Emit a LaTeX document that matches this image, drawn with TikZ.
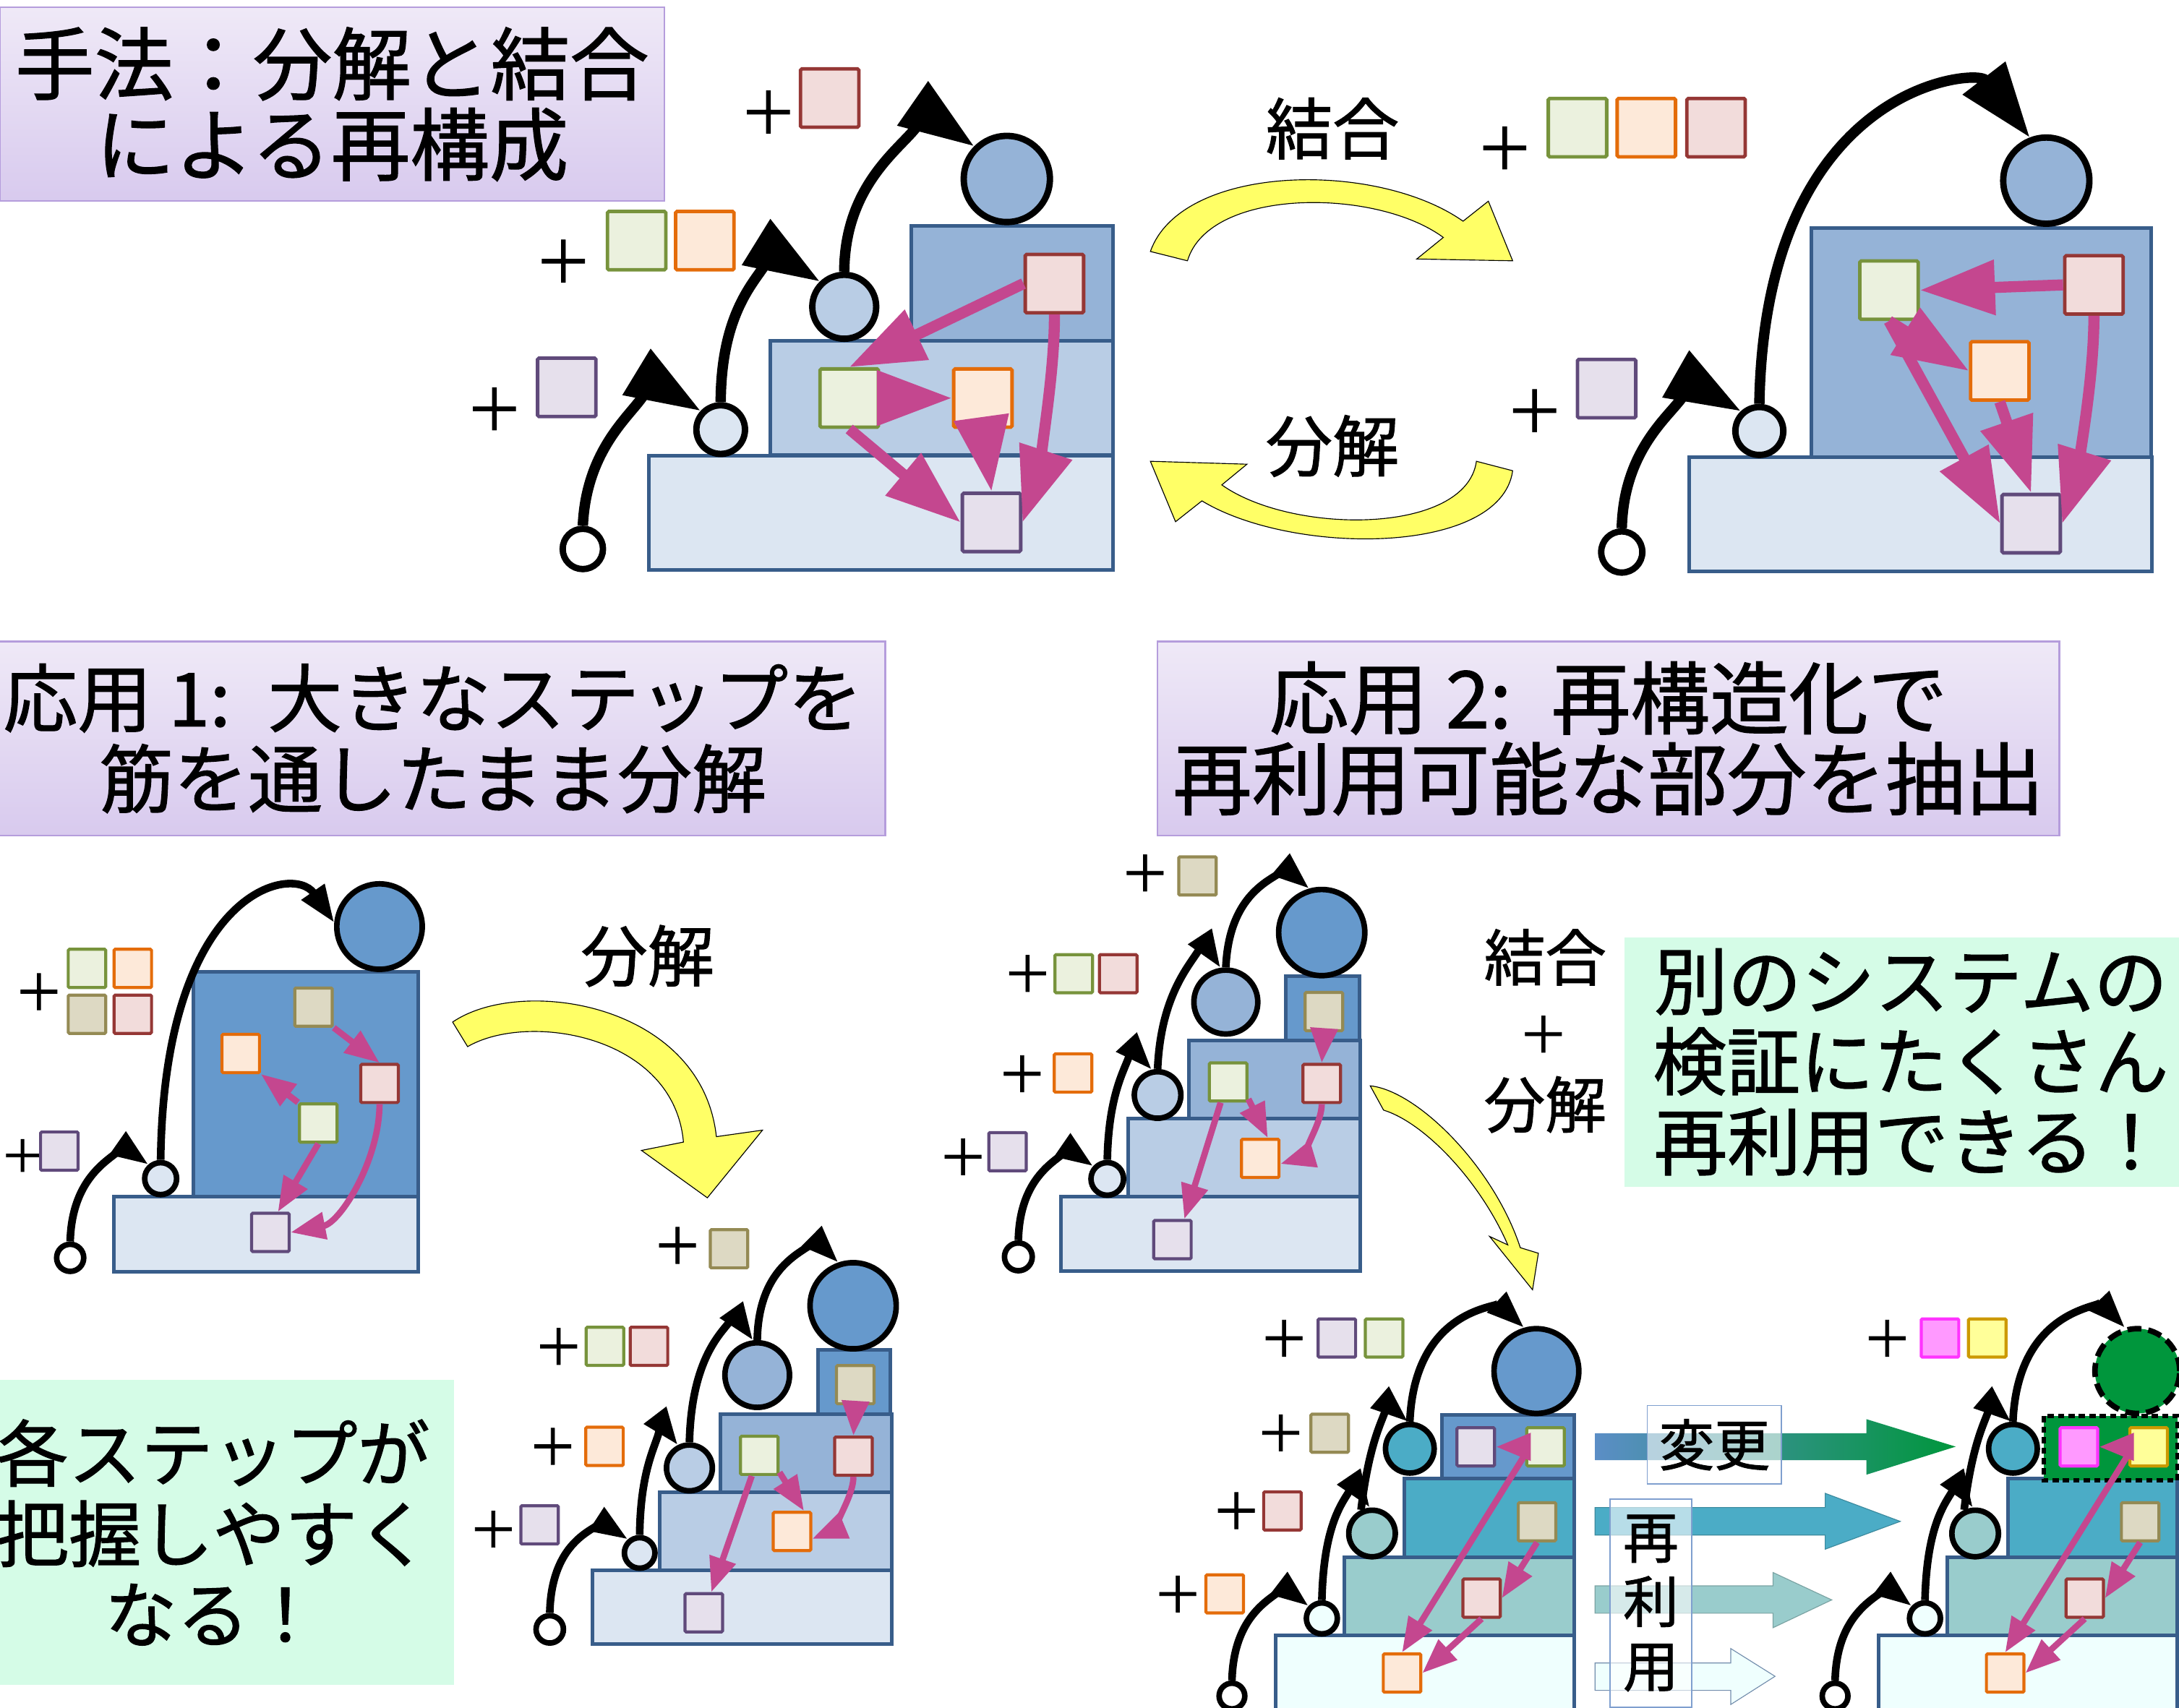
\documentclass[tikz,border=0pt]{standalone}
\usepackage{fontspec}
\setmainfont{Noto Sans CJK JP}[FakeBold=1.2]
\usetikzlibrary{arrows.meta}
\definecolor{cA}{HTML}{DCE6F2}
\definecolor{cB}{HTML}{B9CDE5}
\definecolor{cC}{HTML}{95B3D7}
\definecolor{cD}{HTML}{6699CC}
\definecolor{bd}{HTML}{385D8A}
\definecolor{tqa}{HTML}{4BACC6}
\definecolor{tqb}{HTML}{99CCCC}
\definecolor{tqc}{HTML}{EFFFFE}
\definecolor{gF}{HTML}{EBF1DE}\definecolor{gD}{HTML}{77933C}
\definecolor{oF}{HTML}{FDE9D9}\definecolor{oD}{HTML}{E46C0A}
\definecolor{rF}{HTML}{F2DCDB}\definecolor{rD}{HTML}{953735}
\definecolor{pF}{HTML}{E6E0EC}\definecolor{pD}{HTML}{604A7B}
\definecolor{tF}{HTML}{DDD9C3}\definecolor{tD}{HTML}{948A54}
\definecolor{kF}{HTML}{FF99FF}\definecolor{kD}{HTML}{FF33FF}
\definecolor{yF}{HTML}{FFFF99}\definecolor{yD}{HTML}{CC9900}
\definecolor{mg}{HTML}{C4478F}
\definecolor{yel}{HTML}{FFFF66}
\definecolor{ttop}{HTML}{EFE9F7}\definecolor{tbot}{HTML}{D8CAEE}\definecolor{tbd}{HTML}{B59DDC}
\definecolor{mint}{HTML}{D5FCE7}
\definecolor{grn}{HTML}{00963C}
\definecolor{arL}{HTML}{5B8EC6}
\definecolor{lbd}{HTML}{7F9FCF}
\tikzset{
 stepbox/.style={draw=bd, line width=2.6pt},
 sqb/.style={rectangle, inner sep=0pt, line width=2.5pt, minimum width=42pt, minimum height=42pt, rounded corners=1pt},
 sqs/.style={rectangle, inner sep=0pt, line width=2.2pt, minimum width=27pt, minimum height=27.5pt, rounded corners=0.8pt},
 gsq/.style={fill=gF, draw=gD},
 osq/.style={fill=oF, draw=oD},
 rsq/.style={fill=rF, draw=rD},
 psq/.style={fill=pF, draw=pD},
 tsq/.style={fill=tF, draw=tD},
 ksq/.style={fill=kF, draw=kD},
 ysq/.style={fill=yF, draw=yD},
 hdb/.style={circle, draw=black, line width=4.6pt, inner sep=0pt},
 hds/.style={circle, draw=black, line width=4pt, inner sep=0pt},
 blkA/.style={draw=black, line width=7.5pt, -{Triangle[length=54pt,width=37pt]}},
 blkS/.style={draw=black, line width=5.5pt, -{Triangle[length=27pt,width=19pt]}},
 mgA/.style={draw=mg, line width=8pt, -{Triangle[length=54pt,width=38pt]}},
 mgS/.style={draw=mg, line width=4.5pt, -{Triangle[length=25pt,width=19pt]}},
 plusb/.style={inner sep=0pt, font=\fontsize{42}{42}\selectfont},
 pluss/.style={inner sep=0pt, font=\fontsize{36}{36}\selectfont},
 yarrow/.style={fill=yel, draw=black, line width=0.6pt},
 titlebox/.style={rectangle, top color=ttop, bottom color=tbot, draw=tbd, line width=1.2pt, align=center, inner sep=0pt},
 notebox/.style={rectangle, fill=mint, align=center, inner sep=0pt},
 lblbox/.style={rectangle, fill=white, fill opacity=0.6, text opacity=1, draw=lbd, line width=0.9pt, align=center, inner sep=0pt, font=\fontsize{40}{46.3}\selectfont},
 lbl/.style={inner sep=0pt, font=\fontsize{48}{48}\selectfont},
 lbls/.style={inner sep=0pt, font=\fontsize{44}{44}\selectfont},
}
\begin{document}
\begin{tikzpicture}[x=1pt,y=-1pt]
\useasboundingbox (0,0) rectangle (1568,1229);
\clip (0,0) rectangle (1568,1229);
\fill[white] (0,0) rectangle (1568,1229);

% ---------- titles and notes ----------
\node[titlebox, minimum width=478pt, minimum height=139.6pt, font=\fontsize{57}{58}\selectfont] (t1) at (239,75) {手法：分解と結合\\による再構成};
\node[titlebox, minimum width=651pt, minimum height=139.7pt, font=\fontsize{53.5}{58}\selectfont] (t2) at (311.5,531.5) {応用 1:\hspace{0.5em}大きなステップを\\筋を通したまま分解};
\node[titlebox, minimum width=648.8pt, minimum height=139.7pt, font=\fontsize{57}{58}\selectfont] (t3) at (1157.4,531.5) {応用 2:\hspace{0.5em}再構造化で\\再利用可能な部分を抽出};
\node[notebox, minimum width=346.6pt, minimum height=220pt, font=\fontsize{52}{58}\selectfont] (n1) at (153.3,1102.9) {各ステップが\\把握しやすく\\なる！};
\node[notebox, minimum width=412pt, minimum height=179.4pt, font=\fontsize{53}{57.7}\selectfont] (n2) at (1375,764.4) {別のシステムの\\検証にたくさん\\再利用できる！};

% ---------- yellow arrows ----------
\filldraw[yarrow] (827.8,181) .. controls (850,118) and (990,115) .. (1052.8,159.2) -- (1071,144.8) -- (1088.5,187.7) -- (1019.5,186.4) -- (1038.6,170.9) .. controls (990,135) and (870,135) .. (854.5,187.7) -- cycle;
\filldraw[yarrow] (1088.5,338.8) .. controls (1080,400) and (930,400) .. (864.9,360.5) -- (845.9,375.5) -- (827.8,332) -- (897.3,334.1) -- (879.2,349) .. controls (930,385) and (1055,385) .. (1062.4,332) -- cycle;
\filldraw[yarrow] (325.7,735.6) .. controls (375,702) and (505,722) .. (515.5,818.1) -- (548.7,813.4) -- (509,862.1) -- (461.6,828) -- (491.8,822) .. controls (485,745) and (380,728) .. (336.5,753.3) -- cycle;
\filldraw[yarrow] (986,781.5) .. controls (1020,785) and (1075,840) .. (1094,898) -- (1107,902) -- (1102.8,928.3) -- (1071.9,889.9) -- (1085,896) .. controls (1065,850) and (1025,808) .. (995.6,799) -- cycle;
\node[lbl] (kA) at (958.8,92.5) {結合};
\node[lbl] (bA) at (958.8,321) {分解};
\node[lbl] (bC) at (466,688) {分解};
\node[lbls] (kE) at (1111.9,689) {結合};
\node[pluss] (pE) at (1110.6,744.5) {＋};
\node[lbls] (bE) at (1111.9,795) {分解};

% ---------- diagram A ----------
\draw[stepbox, fill=cA] (467,328) rectangle (801,410);
\draw[stepbox, fill=cB] (554.5,245.4) rectangle (801,327.6);
\draw[stepbox, fill=cC] (656,162.6) rectangle (801,245.4);
\node[plusb] (Apl1) at (552.9,80.9) {＋};
\node[sqb,rsq] (Aor) at (597,70.6) {};
\node[plusb] (Apl2) at (405.4,188.2) {＋};
\node[sqb,gsq] (Aog) at (458.1,173.2) {};
\node[sqb,osq] (Aoo) at (507.2,173.2) {};
\node[plusb] (Apl3) at (355.8,294.5) {＋};
\node[sqb,psq] (Aop) at (407.85,278.75) {};
\node[hdb, fill=cC, minimum size=62pt] (Ah) at (724.5,128.8) {};
\node[hdb, fill=cB, minimum size=46pt] (Am) at (607.5,220.8) {};
\node[hdb, fill=cA, minimum size=35pt] (As) at (518.6,309.2) {};
\node[hdb, fill=white, minimum size=29pt] (A0) at (419.4,395.1) {};
\node[sqb,rsq] (Ar) at (758.75,204.1) {};
\node[sqb,gsq] (Ag) at (611.1,286.5) {};
\node[sqb,osq] (Ao) at (707.25,286.5) {};
\node[sqb,psq] (Ap) at (713.5,376) {};
\draw[blkA] (A0.north) .. controls (423,300) and (485.7,284.5) .. (As.137);
\draw[blkA] (As.north) .. controls (519,195) and (571.5,191.2) .. (Am.134);
\draw[blkA] (Am.north) .. controls (608,110) and (683.1,92.8) .. (Ah.135);
\draw[mgA] (Ar.west) -- (Ag.north);
\draw[mgA] (Ar.south) .. controls (759,280) and (742.6,355.1) .. (Ap.east);
\draw[mgA] (Ag.east) -- (Ao.west);
\draw[mgA] (Ag.south) -- (Ap.west);
\draw[mgA] (Ao.south) -- (Ap.north);

% ---------- diagram B ----------
\draw[stepbox, fill=cA] (1215.6,329.2) rectangle (1548.6,411.4);
\draw[stepbox, fill=cC] (1303.6,164) rectangle (1547.7,329.2);
\node[plusb] (Bpl1) at (1082.8,106.7) {＋};
\node[sqb,gsq] (Bog) at (1135.15,91.85) {};
\node[sqb,osq] (Boo) at (1184.7,91.85) {};
\node[sqb,rsq] (Bor) at (1234.85,91.85) {};
\node[plusb] (Bpl2) at (1104.3,295.8) {＋};
\node[sqb,psq] (Bop) at (1156.1,279.7) {};
\node[hdb, fill=cC, minimum size=62pt] (Bh) at (1472.5,130) {};
\node[hdb, fill=cA, minimum size=34.5pt] (Bs) at (1266,310.2) {};
\node[hdb, fill=white, minimum size=29.6pt] (B0) at (1167,397.3) {};
\node[sqb,gsq] (Bg) at (1359.3,208.85) {};
\node[sqb,rsq] (Br) at (1506.8,205.05) {};
\node[sqb,osq] (Bo) at (1439,266.95) {};
\node[sqb,psq] (Bp) at (1461.6,376.9) {};
\draw[blkA] (B0.north) .. controls (1169,300) and (1234.3,285.4) .. (Bs.133);
\draw[blkA] (Bs.north) .. controls (1270,60) and (1422.5,49.5) .. (Bh.111);
\draw[mgA] (Br.west) -- (Bg.east);
\draw[mgA] (Bg.south) -- (Bo.west);
\draw[mgA] (Bg.south) -- (Bp.west);
\draw[mgA] (Bo.south) -- (Bp.north);
\draw[mgA] (Br.south) .. controls (1506.5,290) and (1488.3,362.7) .. (Bp.east);

% ---------- diagram C ----------
\draw[stepbox, fill=cA] (82,861.3) rectangle (301.1,915.5);
\draw[stepbox, fill=cD] (139.3,699.5) rectangle (300.7,861.3);
\node[pluss] (Cpl1) at (28,714) {＋};
\node[sqs,gsq] (Cog) at (62.6,697) {};
\node[sqs,osq] (Coo) at (95.55,697) {};
\node[sqs,tsq] (Cot) at (62.6,730) {};
\node[sqs,rsq] (Cor) at (95.55,730) {};
\node[inner sep=0pt, font=\fontsize{32}{32}\selectfont] (Cpl2) at (16.2,831.8) {＋};
\node[sqs,psq] (Cop) at (42.7,828.5) {};
\node[hds, fill=cD, minimum size=61.5pt] (Ch) at (273.1,666.9) {};
\node[hds, fill=cA, minimum size=23pt] (Cs) at (115.6,848.3) {};
\node[hds, fill=white, minimum size=19.5pt] (C0) at (50.5,905.3) {};
\node[sqs,tsq] (Ct) at (225.6,724.85) {};
\node[sqs,osq] (Co) at (173.2,758.25) {};
\node[sqs,rsq] (Cr) at (273.1,779.8) {};
\node[sqs,gsq] (Cg) at (229.05,808.3) {};
\node[sqs,psq] (Cp) at (194.6,887) {};
\draw[blkS] (C0.north) .. controls (52,835) and (95.6,830.3) .. (Cs.131);
\draw[blkS] (Cs.north) .. controls (118,640) and (211,621.4) .. (Ch.175);
\draw[mgS] (Ct.south east) -- (Cr.north);
\draw[mgS] (Cg.north west) -- (Co.south east);
\draw[mgS] (Cg.south) -- (Cp.70);
\draw[mgS] (Cr.south) .. controls (273,835) and (245,880) .. (Cp.east);

% ---------- diagram D ----------
\draw[stepbox, fill=cA] (426.2,1130.3) rectangle (641.5,1183.3);
\draw[stepbox, fill=cB] (474.5,1074.1) rectangle (641.5,1130.3);
\draw[stepbox, fill=cC] (518.5,1017.6) rectangle (641.5,1074.1);
\draw[stepbox, fill=cD] (588.9,971.3) rectangle (640.6,1017.6);
\node[pluss] (Dpl1) at (487.5,896.6) {＋};
\node[sqs,tsq] (Dot) at (524.6,898.8) {};
\node[pluss] (Dpl2) at (402,969.3) {＋};
\node[sqs,gsq] (Dog) at (435.3,969) {};
\node[sqs,rsq] (Dor) at (467,969) {};
\node[pluss] (Dpl3) at (397.8,1041.2) {＋};
\node[sqs,osq] (Doo) at (435,1041) {};
\node[pluss] (Dpl4) at (355,1100.8) {＋};
\node[sqs,psq] (Dop) at (388.3,1097.5) {};
\node[hds, fill=cD, minimum size=62pt] (Dh) at (613.9,939.8) {};
\node[hds, fill=cC, minimum size=46.5pt] (Dc3) at (544.9,989.7) {};
\node[hds, fill=cB, minimum size=33pt] (Dc2) at (496.1,1056.5) {};
\node[hds, fill=cA, minimum size=22pt] (Dc1) at (460.3,1117.7) {};
\node[hds, fill=white, minimum size=19.7pt] (Dc0) at (395.6,1172.7) {};
\node[sqs,tsq] (Dt) at (615.45,996.6) {};
\node[sqs,gsq] (Dg) at (546.35,1047.45) {};
\node[sqs,rsq] (Dr) at (614.1,1048.05) {};
\node[sqs,osq] (Do) at (569.9,1102.25) {};
\node[sqs,psq] (Dp) at (506.45,1160.75) {};
\draw[blkS] (Dc0.north) .. controls (397,1100) and (439.6,1100) .. (Dc1.131);
\draw[blkS] (Dc1.north) .. controls (461,1040) and (481.8,1032.3) .. (Dc2.117);
\draw[blkS] (Dc2.north) .. controls (498,960) and (533.3,952.6) .. (Dc3.97);
\draw[blkS] (Dc3.north) .. controls (546,900) and (593.4,898.9) .. (Dh.109);
\draw[mgS] (Dt.south) -- (Dr.north);
\draw[mgS] (Dg.-40) -- (Do.60);
\draw[mgS] (Dg.250) -- (Dp.70);
\draw[mgS] (Dr.south) .. controls (614,1080) and (594.3,1103.5) .. (Do.-20);

% ---------- diagram E ----------
\draw[stepbox, fill=cA] (763.3,861) rectangle (979,915);
\draw[stepbox, fill=cB] (811.8,805) rectangle (979,861);
\draw[stepbox, fill=cC] (855.6,748.9) rectangle (979,805);
\draw[stepbox, fill=cD] (925.3,702.5) rectangle (978.3,748.9);
\node[pluss] (Epl1) at (824,628.5) {＋};
\node[sqs,tsq] (Eot) at (861.7,630.45) {};
\node[pluss] (Epl2) at (739.4,700.8) {＋};
\node[sqs,gsq] (Eog) at (772.65,700.8) {};
\node[sqs,rsq] (Eor) at (804.65,700.8) {};
\node[pluss] (Epl3) at (735.5,773) {＋};
\node[sqs,osq] (Eoo) at (772.15,772.25) {};
\node[pluss] (Epl4) at (693,832.8) {＋};
\node[sqs,psq] (Eop) at (725,828.9) {};
\node[hds, fill=cD, minimum size=62pt] (Eh) at (951.1,671.2) {};
\node[hds, fill=cC, minimum size=46pt] (Ec3) at (882.1,721.2) {};
\node[hds, fill=cB, minimum size=33.5pt] (Ec2) at (833,788.1) {};
\node[hds, fill=cA, minimum size=23.5pt] (Ec1) at (796.8,848.5) {};
\node[hds, fill=white, minimum size=20pt] (Ec0) at (732.8,904.6) {};
\node[sqs,tsq] (Et) at (952.65,728.05) {};
\node[sqs,gsq] (Eg) at (883.75,778.75) {};
\node[sqs,rsq] (Er) at (951.1,779.8) {};
\node[sqs,osq] (Eo) at (906.85,833.75) {};
\node[sqs,psq] (Ep) at (843.65,892.2) {};
\draw[blkS] (Ec0.north) .. controls (734,835) and (776,832) .. (Ec1.138);
\draw[blkS] (Ec1.north) .. controls (798,770) and (819.9,760.2) .. (Ec2.103);
\draw[blkS] (Ec2.north) .. controls (836,700) and (870.5,684.8) .. (Ec3.99);
\draw[blkS] (Ec3.north) .. controls (885,630) and (932.1,631.1) .. (Eh.106);
\draw[mgS] (Et.south) -- (Er.north);
\draw[mgS] (Eg.-40) -- (Eo.70);
\draw[mgS] (Eg.250) -- (Ep.60);
\draw[mgS] (Er.south) .. controls (951,812) and (931.4,834.7) .. (Eo.-15);

% ---------- block arrows ----------
\shade[left color=arL, right color=grn] (1147.8,1031.5) -- (1343,1031.5) -- (1343,1021.4) -- (1407.3,1041.2) -- (1343,1061.4) -- (1343,1050.9) -- (1147.8,1050.9) -- cycle;
\filldraw[fill=tqa, draw=tqa!80!black, line width=0.6pt] (1147.8,1085) -- (1313.4,1085) -- (1313.4,1074.8) -- (1367.4,1095) -- (1313.4,1115) -- (1313.4,1104.8) -- (1147.8,1104.8) -- cycle;
\filldraw[fill=tqb, draw=tqb!80!black, line width=0.6pt] (1147.8,1141.4) -- (1275.9,1141.4) -- (1275.9,1131.8) -- (1318.1,1151.5) -- (1275.9,1171.5) -- (1275.9,1161.1) -- (1147.8,1161.1) -- cycle;
\filldraw[fill=tqc, draw=bd!70, line width=0.6pt] (1147.8,1196.9) -- (1245.4,1196.9) -- (1245.4,1186.5) -- (1277.3,1206.5) -- (1245.4,1226.8) -- (1245.4,1216.6) -- (1147.8,1216.6) -- cycle;
\node[lblbox, minimum width=96.7pt, minimum height=56.5pt] (chg) at (1233.65,1039.85) {変更};
\node[lblbox, minimum width=58.7pt, minimum height=149.9pt] (reuse) at (1187.95,1153.85) {再\\利\\用};

% ---------- diagram F ----------
\draw[stepbox, fill=tqc] (917.9,1177) rectangle (1132.8,1240);
\draw[stepbox, fill=tqb] (967.2,1121) rectangle (1132.8,1177);
\draw[stepbox, fill=tqa] (1010.8,1064.1) rectangle (1132.8,1121);
\draw[stepbox, fill=cD] (1037.5,1018.3) rectangle (1132.8,1064.1);
\node[pluss] (Fpl1) at (924,963.4) {＋};
\node[sqs,psq] (Fop) at (962,963) {};
\node[sqs,gsq] (Fog) at (996,963) {};
\node[pluss] (Fpl2) at (921.6,1031.5) {＋};
\node[sqs,tsq] (Fot) at (956.85,1031.55) {};
\node[pluss] (Fpl3) at (889.7,1087.5) {＋};
\node[sqs,rsq] (For) at (922.8,1087.45) {};
\node[pluss] (Fpl4) at (847.5,1147.5) {＋};
\node[sqs,osq] (Foo) at (881.3,1147.15) {};
\node[hds, fill=cD, minimum size=61pt] (Fh) at (1105.6,986.8) {};
\node[hds, fill=tqa, minimum size=35pt] (Fc3) at (1014.5,1042.7) {};
\node[hds, fill=tqb, minimum size=33.5pt] (Fc2) at (987.3,1103.7) {};
\node[hds, fill=tqc, minimum size=22.3pt] (Fc1) at (951.2,1164.8) {};
\node[hds, fill=white, minimum size=18.5pt] (Fc0) at (886.5,1220.7) {};
\node[sqs,psq] (Fp) at (1061.95,1041.35) {};
\node[sqs,gsq] (Fg) at (1112.15,1041.35) {};
\node[sqs,tsq] (Ft) at (1106.05,1095.25) {};
\node[sqs,rsq] (Fr) at (1066.15,1150.25) {};
\node[sqs,osq] (Fo) at (1008.9,1204.15) {};
\draw[blkS] (Fc0.north) .. controls (888,1150) and (930.7,1147.5) .. (Fc1.137);
\draw[blkS] (Fc1.north) .. controls (953,1075) and (979.2,1075.5) .. (Fc2.95);
\draw[blkS] (Fc2.115) .. controls (988,1015) and (1004.6,1015.9) .. (Fc3.94);
\draw[blkS] (Fc3.north) .. controls (1018,940) and (1081.1,941) .. (Fh.106);
\draw[mgS] (Fg.west) -- (Fp.east);
\draw[mgS] (Fg.200) -- (Fo.north);
\draw[mgS] (Ft.south) -- (Fr.east);
\draw[mgS] (Fr.south) -- (Fo.east);

% ---------- diagram G (F moved right) ----------
\begin{scope}[xshift=434pt]
\draw[stepbox, fill=tqc] (917.9,1177) rectangle (1132.8,1240);
\draw[stepbox, fill=tqb] (967.2,1121) rectangle (1132.8,1177);
\draw[stepbox, fill=tqa] (1010.8,1064.1) rectangle (1132.8,1121);
\draw[fill=grn, draw=black, line width=3pt, dash pattern=on 4.5pt off 3pt] (1036.6,1019.3) rectangle (1132.8,1065.5);
\node[pluss] (Gpl1) at (924,963.4) {＋};
\node[sqs,ksq] (Gok) at (962,963) {};
\node[sqs,ysq] (Goy) at (996,963) {};
\node[hds, fill=grn, minimum size=61pt, dash pattern=on 10pt off 5pt] (Gh) at (1104,986.8) {};
\node[hds, fill=tqa, minimum size=35pt] (Gc3) at (1014.5,1042.7) {};
\node[hds, fill=tqb, minimum size=33.5pt] (Gc2) at (987.3,1103.7) {};
\node[hds, fill=tqc, minimum size=22.3pt] (Gc1) at (951.2,1164.8) {};
\node[hds, fill=white, minimum size=18.5pt] (Gc0) at (886.5,1220.7) {};
\node[sqs,ksq] (Gk) at (1061.95,1041.35) {};
\node[sqs,ysq] (Gy) at (1112.15,1041.35) {};
\node[sqs,tsq] (Gt) at (1106.05,1095.25) {};
\node[sqs,rsq] (Gr) at (1066.15,1150.25) {};
\node[sqs,osq] (Go) at (1008.9,1204.15) {};
\draw[blkS] (Gc0.north) .. controls (888,1150) and (930.7,1147.5) .. (Gc1.137);
\draw[blkS] (Gc1.north) .. controls (953,1075) and (979.2,1075.5) .. (Gc2.95);
\draw[blkS] (Gc2.115) .. controls (988,1015) and (1004.6,1015.9) .. (Gc3.94);
\draw[blkS] (Gc3.north) .. controls (1018,940) and (1081.1,941) .. (Gh.106);
\draw[mgS] (Gy.west) -- (Gk.east);
\draw[mgS] (Gy.200) -- (Go.north);
\draw[mgS] (Gt.south) -- (Gr.east);
\draw[mgS] (Gr.south) -- (Go.east);
\end{scope}
\end{tikzpicture}
\end{document}
